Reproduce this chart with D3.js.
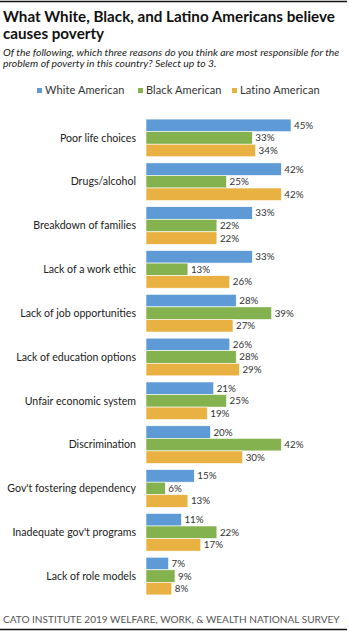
<!DOCTYPE html>
<html><head><meta charset="utf-8">
<script src="https://cdn.jsdelivr.net/npm/d3@7/dist/d3.min.js"></script>
<style>
body{margin:0;background:#fff;}
svg{display:block;font-family:Lato,"Open Sans",sans-serif;}
</style></head>
<body><svg id="c" width="349" height="632"></svg>
<script>
const categories = ["Poor life choices","Drugs/alcohol","Breakdown of families","Lack of a work ethic","Lack of job opportunities","Lack of education options","Unfair economic system","Discrimination","Gov't fostering dependency","Inadequate gov't programs","Lack of role models"];
const seriesNames = ["White American","Black American","Latino American"];
const white  = [45,42,33,33,28,26,21,20,15,11,7];
const black  = [33,25,22,13,39,28,25,42,6,22,9];
const latino = [34,42,22,26,27,29,19,30,13,17,8];
const colors = ["#5E9BD6","#84B24F","#E9B142"];

const svg = d3.select("#c");
const series = [white, black, latino];

svg.append("line").attr("x1",0).attr("x2",347).attr("y1",1.5).attr("y2",1.5).attr("stroke","#111").attr("stroke-width",1.6);
svg.append("line").attr("x1",0).attr("x2",347).attr("y1",629.5).attr("y2",629.5).attr("stroke","#111").attr("stroke-width",1.6);

const title = svg.append("text").attr("font-weight","bold").attr("font-size",15.2).attr("fill","#111");
title.append("tspan").attr("x",3).attr("y",22).text("What White, Black, and Latino Americans believe");
title.append("tspan").attr("x",3).attr("y",39).text("causes poverty");

const sub = svg.append("text").attr("font-style","italic").attr("font-size",10.4).attr("fill","#222");
sub.append("tspan").attr("x",3).attr("y",56).text("Of the following, which three reasons do you think are most responsible for the");
sub.append("tspan").attr("x",3).attr("y",67).text("problem of poverty in this country? Select up to 3.");

const legX = [37, 138, 232];
seriesNames.forEach((n,i)=>{
  svg.append("rect").attr("x",legX[i]).attr("y",88).attr("width",5).attr("height",5).attr("fill",colors[i]);
  svg.append("text").attr("x",legX[i]+8).attr("y",94).attr("font-size",11).attr("letter-spacing",0.1).attr("fill","#333").text(n);
});

const x = d3.scaleLinear().domain([0,45]).range([146,291]);
const y = d3.scaleBand().domain(categories).range([116,598]).paddingInner(0.14).paddingOuter(0.07);
const ys = d3.scaleBand().domain(d3.range(3)).range([0,y.bandwidth()]);

const g = svg.append("g");
categories.forEach((c,ci)=>{
  series.forEach((s,si)=>{
    const v = s[ci];
    g.append("rect").attr("x",x(0)).attr("y",y(c)+ys(si)).attr("width",x(v)-x(0)).attr("height",ys.bandwidth())
      .attr("fill",colors[si]).attr("stroke","#fff").attr("stroke-width",0.6);
    g.append("text").attr("x",x(v)+3).attr("y",y(c)+ys(si)+ys.bandwidth()/2).attr("dy","0.35em")
      .attr("font-size",9.8).attr("fill","#333").text(v+"%");
  });
  g.append("text").attr("x",136).attr("y",y(c)+y.bandwidth()/2).attr("dy","0.35em").attr("text-anchor","end")
    .attr("font-size",10.6).attr("fill","#222").text(c);
});

svg.append("text").attr("x",3).attr("y",623).attr("font-size",10.05).attr("fill","#555").text("CATO INSTITUTE 2019 WELFARE, WORK, & WEALTH NATIONAL SURVEY");
</script></body></html>
